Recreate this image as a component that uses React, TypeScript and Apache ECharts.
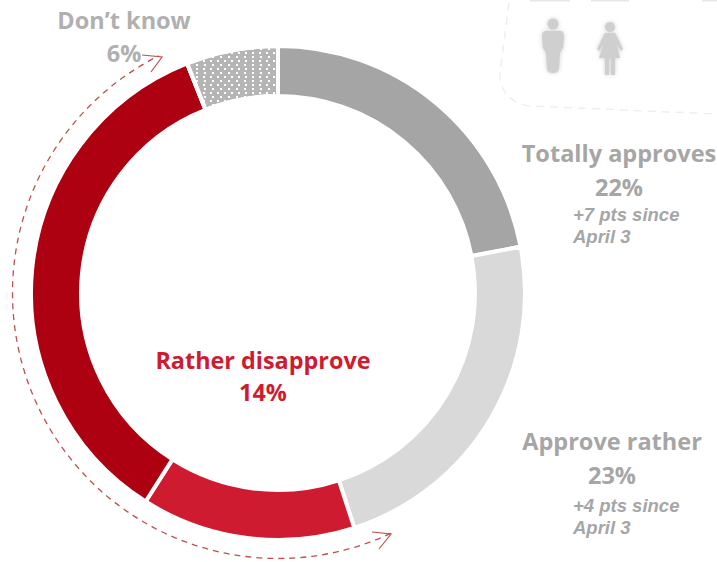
import React, { useEffect, useRef } from "react";
import * as echarts from "echarts";

const categories = ["Totally approves", "Approve rather", "Rather disapprove", "Disapprove", "Don’t know"];
const values = [22, 23, 14, 35, 6];
const sliceColors = ["#a5a5a5", "#d9d9d9", "#cf1b30", "#ad0010", "#b5b5b5"];
const changeNotes = ["+7 pts since", "+4 pts since"];
const changeDate = "April 3";

const GREY = "#a6a6a6";
const TITLE_FONT = "'Open Sans', 'Noto Sans', sans-serif";
const NOTE_FONT = "'Liberation Sans', Arial, sans-serif";

echarts.graphic.registerShape("cardEdge", echarts.graphic.extendPath(
  "M509 3 L500 72 C499 92 512 104 530 106 L717 114", {}));
echarts.graphic.registerShape("manIcon", echarts.graphic.extendPath(
  "M545 31 L561 31 Q564 32 564 36 L563 48 L560 53 L559 69 Q558 73 553 73 Q548 73 547 69 L546 53 L543 48 L542 36 Q542 32 545 31 Z", {}));
echarts.graphic.registerShape("womanIcon", echarts.graphic.extendPath(
  "M605 33 L615 33 L623 49 L621 51 L616 43 L620 58 L615 58 L615 75 L611 75 L611 58 L609 58 L609 75 L605 75 L605 58 L599 58 L604 43 L599 51 L597 49 Z", {}));

const txt = (text: string, x: number, y: number, size: number, fill: string, opt: any = {}) => ({
  type: "text", x, y, silent: true,
  style: {
    text, fill, fontSize: size, fontFamily: opt.font ?? TITLE_FONT,
    fontWeight: "bold", fontStyle: opt.italic ? "italic" : "normal",
    align: opt.align ?? "center", verticalAlign: "middle",
  },
});

const RED_LINE = "#c0504d";
const NOTE = { italic: true, align: "left", font: NOTE_FONT };

export default function App() {
  const ref = useRef<HTMLDivElement>(null);
  useEffect(() => {
    document.body.style.margin = "0";
    const chart = echarts.init(ref.current!, undefined, { renderer: "svg" });
    const soft = { fill: "#cfcfcf", shadowBlur: 4, shadowColor: "#cfcfcf" };
    chart.setOption({
      animation: false,
      backgroundColor: "#ffffff",
      series: [{
        type: "pie",
        center: [278, 293],
        radius: [197, 247],
        startAngle: 90,
        clockwise: true,
        silent: true,
        label: { show: false },
        labelLine: { show: false },
        data: categories.map((name, i) => ({
          name,
          value: values[i],
          itemStyle: {
            color: sliceColors[i],
            borderColor: "#ffffff",
            borderWidth: 4,
            ...(i === 4 ? {
              decal: {
                symbol: "rect",
                symbolSize: 1,
                color: "#ffffff",
                dashArrayX: [[2, 5], [0, 3.5, 2, 1.5]],
                dashArrayY: [1.5, 2],
                rotation: 0,
              },
            } : {}),
          },
        })),
      }],
      graphic: [
        { type: "cardEdge", silent: true, style: { fill: "none", stroke: "#eeeeee", lineWidth: 1.5, lineDash: [8, 6] } },
        { type: "rect", silent: true, shape: { x: 530, y: 0, width: 40, height: 1.5 }, style: { fill: "#e6e6e6" } },
        { type: "rect", silent: true, shape: { x: 591, y: 0, width: 38, height: 1.5 }, style: { fill: "#e6e6e6" } },
        { type: "rect", silent: true, shape: { x: 702, y: 0, width: 15, height: 1.5 }, style: { fill: "#e6e6e6" } },
        { type: "circle", silent: true, shape: { cx: 553, cy: 24, r: 5.5 }, style: soft },
        { type: "manIcon", silent: true, style: soft },
        { type: "circle", silent: true, shape: { cx: 610, cy: 27, r: 5 }, style: soft },
        { type: "womanIcon", silent: true, style: soft },

        { type: "arc", silent: true,
          shape: { cx: 278, cy: 293, r: 265.5, startAngle: 64.9 * Math.PI / 180, endAngle: 243.3 * Math.PI / 180, clockwise: true },
          style: { fill: "none", stroke: RED_LINE, lineWidth: 1.3, lineDash: [6, 5] } },
        { type: "polyline", silent: true, shape: { points: [[142, 55], [162, 57], [151, 72]] },
          style: { fill: "none", stroke: RED_LINE, lineWidth: 1.2 } },
        { type: "polyline", silent: true, shape: { points: [[372, 532], [391, 534], [379, 549]] },
          style: { fill: "none", stroke: RED_LINE, lineWidth: 1.2 } },

        txt(categories[4], 124, 20, 23.5, "#b0b0b0"),
        txt(values[4] + "%", 124, 53, 23.5, "#b0b0b0"),
        txt(categories[0], 619, 153, 23.5, GREY),
        txt(values[0] + "%", 619, 187, 23.5, GREY),
        txt(changeNotes[0], 573, 214, 18.5, GREY, NOTE),
        txt(changeDate, 573, 236, 18.5, GREY, NOTE),
        txt(categories[1], 612, 441, 23.5, GREY),
        txt(values[1] + "%", 612, 475, 23.5, GREY),
        txt(changeNotes[1], 573, 505, 18.5, GREY, NOTE),
        txt(changeDate, 573, 527, 18.5, GREY, NOTE),
        txt(categories[2], 263, 360, 23.4, "#cf1b30"),
        txt(values[2] + "%", 263, 392, 23.4, "#cf1b30"),
      ],
    });
    return () => chart.dispose();
  }, []);
  return <div ref={ref} style={{ position: "absolute", left: 0, top: 0, width: 717, height: 562 }} />;
}
